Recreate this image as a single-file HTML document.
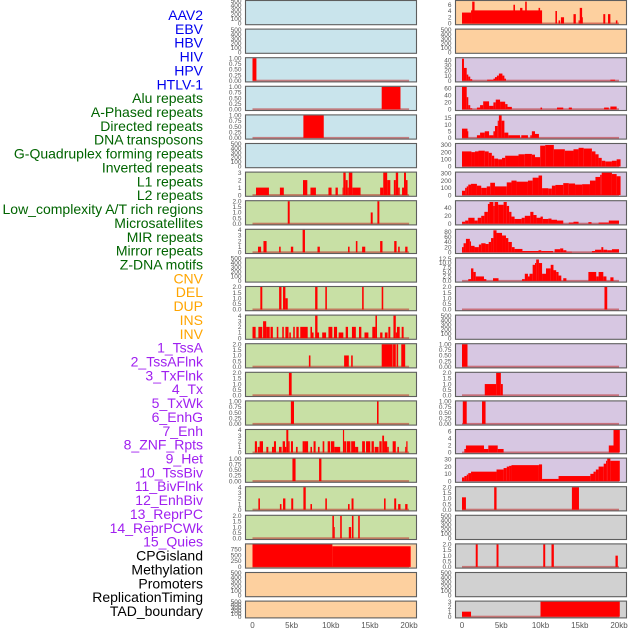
<!DOCTYPE html>
<html><head><meta charset="utf-8">
<style>
html,body{margin:0;padding:0;background:#fff;}
svg{display:block;}
.lab{font-family:"Liberation Sans",sans-serif;font-size:14px;}
.tk{font-family:"Liberation Sans",sans-serif;font-size:6.5px;fill:#555;}
.ax{font-family:"Liberation Sans",sans-serif;font-size:8px;fill:#555;}
</style></head>
<body>
<svg id="chart" width="630" height="630" viewBox="0 0 630 630" xmlns="http://www.w3.org/2000/svg">
<g id="labels"></g>
<g id="panels"></g>
<g id="axes"></g>
</svg>
<script>
const labelNames = ["AAV2","EBV","HBV","HIV","HPV","HTLV-1","Alu repeats","A-Phased repeats","Directed repeats","DNA transposons","G-Quadruplex forming repeats","Inverted repeats","L1 repeats","L2 repeats","Low_complexity A/T rich regions","Microsatellites","MIR repeats","Mirror repeats","Z-DNA motifs","CNV","DEL","DUP","INS","INV","1_TssA","2_TssAFlnk","3_TxFlnk","4_Tx","5_TxWk","6_EnhG","7_Enh","8_ZNF_Rpts","9_Het","10_TssBiv","11_BivFlnk","12_EnhBiv","13_ReprPC","14_ReprPCWk","15_Quies","CPGisland","Methylation","Promoters","ReplicationTiming","TAD_boundary"];
const labelGroups = ["v","v","v","v","v","v","r","r","r","r","r","r","r","r","r","r","r","r","r","s","s","s","s","s","c","c","c","c","c","c","c","c","c","c","c","c","c","c","c","o","o","o","o","o"];
const xTicks = [0,5,10,15,20];
const xTickLabels = ["0","5kb","10kb","15kb","20kb"];

const L1 = [], L2 = [], L6 = [], L10 = [], L21 = [], L22 = [];
const L3 = [[0,0.5,1]];
const L4 = [[16.5,18.9,1]];
const L5 = [[6.5,9.1,1]];
const L7 = [[0.45,2.1,1],[3.5,4.0,1],[6.45,7.0,2],[7.4,8.1,1],[9.7,10.1,1],[10.6,10.9,1],[11.5,11.6,1],[11.6,11.9,3],[11.9,12.15,2],[12.15,12.3,1],[12.3,12.75,3],[12.75,13.8,1],[16.3,16.7,1],[16.7,17.2,3],[17.2,17.6,2],[18.05,18.3,2],[18.3,18.6,3],[18.6,18.8,1],[19.1,19.35,1],[19.35,19.6,3],[19.6,19.8,2]];
const L8 = [[4.5,4.75,2],[15.1,15.35,1],[15.95,16.2,2]];
const L9 = [[0.7,1.1,1],[1.4,1.8,2],[3.4,3.6,1],[4.9,5.2,1],[6.4,6.7,4],[8.3,8.6,1],[12.2,12.4,1],[13.2,13.4,2],[14.0,14.4,1],[16.3,16.6,2],[18.1,18.4,2],[18.6,18.8,1],[19.5,19.8,1]];
const L11 = [[1.0,1.25,2],[3.4,3.7,2],[3.9,4.2,2],[4.2,4.5,1],[8.0,8.3,2],[9.3,9.5,2],[14.0,14.2,2],[16.5,16.7,2]];
const L12 = [[0,0.4,2],[0.75,1.25,2],[1.35,1.75,3],[1.75,2.2,2],[2.3,2.6,2],[3.1,3.3,2],[3.8,4.0,2],[4.2,4.6,2],[4.7,4.9,1],[5.2,5.4,2],[5.6,5.9,2],[6.1,7.05,2],[7.4,7.6,2],[7.6,7.8,1],[8.0,8.3,4],[8.3,8.5,1],[8.9,9.4,1],[9.7,10.2,2],[10.4,10.8,2],[11.0,11.6,1],[11.9,12.2,2],[12.7,13.2,2],[13.6,13.9,2],[14.3,14.8,1],[15.3,15.7,2],[15.7,15.9,4],[16.3,16.6,1],[16.9,17.25,1],[17.35,17.6,2],[18.0,18.3,4],[18.3,18.45,1],[18.45,18.8,2],[19.05,19.3,2]];
const L13 = [[7.2,7.4,1],[11.7,12.3,1],[12.6,12.8,1],[16.5,17.9,2],[17.95,18.3,2],[18.4,18.6,2],[19.0,19.5,2]];
const L14 = [[4.65,5.0,2]];
const L15 = [[4.9,5.3,1],[15.9,16.1,1]];
const L16 = [[0.3,0.57,2],[0.66,0.91,1],[0.91,1.34,2],[1.77,2.02,1],[2.49,2.74,1],[2.74,3.0,2],[3.38,3.72,1],[3.85,4.15,2],[4.15,4.32,1],[4.32,4.57,4],[4.57,4.74,2],[4.91,5.17,2],[5.55,5.77,1],[6.4,6.7,2],[6.7,7.1,2],[7.4,7.6,1],[7.8,8.06,2],[8.36,8.57,1],[8.96,9.17,2],[9.6,9.9,2],[10.0,10.45,2],[10.45,11.2,1],[11.55,11.7,4],[11.7,11.98,2],[12.06,12.5,2],[12.6,13.1,2],[13.1,13.5,1],[14.0,14.36,2],[14.5,15.04,2],[15.2,15.5,2],[15.6,16.1,1],[16.2,16.5,2],[16.57,16.8,3],[16.8,17.2,2],[17.2,17.4,1],[17.9,18.3,2],[18.5,18.7,1],[19.5,19.64,1],[19.64,19.8,2]];
const L17 = [[5.1,5.5,1],[8.5,8.8,1]];
const L18 = [[0.75,0.95,2],[3.5,3.7,1],[3.9,4.2,2],[4.95,5.2,2],[6.5,6.8,4],[7.4,7.6,1],[9.3,9.5,2],[12.2,12.4,1],[12.65,12.9,2],[16.8,17.0,2],[18.1,18.35,2],[18.6,18.9,1],[19.5,19.8,1]];
const L19 = [[10.2,10.4,2],[10.4,10.5,1],[11.2,11.4,2],[12.3,12.6,1],[12.7,12.9,2],[13.5,13.7,2]];
const L20 = [[0,10.2,980],[10.2,20.2,880]];

const R2 = [], R12 = [], R19 = [], R21 = [];
const R1 = [[0,1.15,3.5],[1.15,10.2,4.2],[1.3,1.6,7],[6.55,6.75,6],[7.4,7.7,5],[8.05,8.25,7],[9.75,9.95,5],[11.9,12.1,4],[12.3,12.5,1],[12.6,13.0,2],[14.2,14.5,3],[14.85,15.0,1],[15.0,15.3,5],[15.3,15.4,2],[18.0,18.25,3],[18.6,18.9,3],[19.6,19.8,1]];
const R3 = [[0,0.25,43],[0.25,0.6,25],[0.6,0.8,12],[0.8,1.05,8],[1.05,1.3,3],[3.2,4.0,2],[4.0,4.2,4],[4.2,4.45,7],[4.45,4.7,10],[4.7,5.15,14],[5.15,5.4,10],[5.4,5.6,4],[18.9,19.5,2]];
const R4 = [[0,0.6,65],[0.6,0.8,35],[0.8,1.05,12],[1.05,1.3,3],[1.9,2.3,5],[2.3,2.7,12],[2.7,3.45,23],[3.45,4.0,10],[4.0,4.3,20],[4.3,4.85,28],[4.85,5.5,22],[5.5,5.8,15],[5.8,6.35,7],[10.0,10.2,5],[12.1,12.9,5],[13.6,14.0,5],[18.1,18.7,5],[18.9,19.7,8]];
const R5 = [[0,0.7,7],[0.7,0.8,5],[1.9,2.3,2],[2.3,2.9,4],[2.9,3.45,5],[3.45,4.0,2],[4.0,4.2,5],[4.2,4.55,9],[4.55,4.7,13],[4.7,5.05,17],[5.05,5.4,13],[5.4,5.9,4],[5.9,7.4,2],[7.55,8.4,2],[8.7,8.9,2],[8.9,9.3,5],[9.3,9.8,3]];
const R6 = [[0,1.2,210],[1.2,1.65,200],[1.65,2.1,210],[2.1,2.9,220],[2.9,3.4,210],[3.4,3.8,190],[3.8,4.1,150],[4.1,4.6,110],[4.6,5.1,100],[5.1,5.5,120],[5.5,7.2,150],[7.2,8.0,170],[8.0,8.9,175],[8.9,9.3,165],[9.3,9.96,130],[9.96,10.6,290],[10.6,11.7,300],[11.7,13.1,240],[13.1,14.2,220],[14.2,14.85,240],[14.85,15.5,260],[15.5,16.55,250],[16.55,17.0,210],[17.0,17.4,170],[17.4,17.8,120],[17.8,18.25,80],[18.25,19.1,70],[19.1,19.7,80],[19.7,20.2,100]];
const R7 = [[0,0.4,60],[0.4,0.6,100],[0.6,0.8,120],[0.8,1.15,145],[1.15,1.9,155],[1.9,2.45,130],[2.45,3.15,100],[3.15,3.6,120],[3.6,4.2,170],[4.2,5.7,120],[5.7,6.3,175],[6.3,6.95,200],[6.95,8.4,185],[8.4,9.0,200],[9.0,9.75,240],[9.75,10.2,270],[10.2,11.0,95],[11.0,11.45,90],[11.45,11.9,130],[11.9,12.9,140],[12.9,13.6,165],[13.6,14.4,160],[14.4,15.3,145],[15.3,16.3,150],[16.3,17.0,200],[17.0,17.6,250],[17.6,17.8,280],[17.8,19.1,310],[19.1,19.7,290],[19.7,20.2,260]];
const R8 = [[0,0.4,5],[0.4,0.8,8],[0.8,1.6,15],[1.6,2.0,8],[2.0,2.45,15],[2.45,2.85,20],[2.85,3.3,30],[3.3,3.5,50],[3.5,4.0,55],[4.0,4.15,45],[4.15,4.6,55],[4.6,5.3,48],[5.3,5.7,55],[5.7,6.0,45],[6.0,6.3,30],[6.3,6.7,18],[6.7,7.6,12],[7.6,8.0,15],[8.0,8.7,20],[8.7,9.1,30],[9.1,9.5,22],[9.5,10.0,15],[10.0,10.3,18],[10.3,11.0,12],[11.0,11.4,13],[11.4,12.1,10],[12.1,12.9,8],[13.6,14.2,3],[14.2,14.85,5],[16.1,16.5,4],[17.4,18.7,3],[18.7,20.0,8]];
const R9 = [[0,0.2,20],[0.2,0.5,35],[0.5,1.0,52],[1.0,1.15,42],[1.15,1.6,25],[1.6,2.15,20],[2.15,2.45,30],[2.45,3.0,35],[3.0,3.4,32],[3.4,3.7,40],[3.7,4.0,55],[4.0,4.4,85],[4.4,5.1,75],[5.1,5.6,65],[5.6,5.9,55],[5.9,6.35,40],[6.35,6.7,20],[6.7,7.7,13],[7.7,9.75,5],[9.75,10.1,8],[10.1,11.6,5],[11.8,12.5,12],[12.5,12.9,15],[12.9,13.3,8],[13.3,14.0,2],[16.55,16.95,5],[16.95,17.75,10],[17.75,18.0,20],[18.0,18.5,10],[18.5,19.1,8],[19.1,20.0,12]];
const R10 = [[0.8,1.15,1],[1.15,1.45,7],[1.45,1.75,5],[1.75,2.8,2.5],[2.8,3.1,1],[3.95,4.65,1.5],[7.65,8.0,1],[8.0,8.4,4],[8.4,8.6,2.5],[8.6,9.0,4],[9.0,9.3,9],[9.3,9.45,10],[9.45,9.8,12],[9.8,10.2,10],[10.2,10.7,4],[10.7,11.3,7],[11.3,11.65,9],[11.65,12.0,6],[12.0,12.3,5],[12.3,12.65,3],[12.9,13.3,1.5],[16.1,17.1,5],[17.1,17.4,2.5],[17.4,18.0,5],[18.0,18.4,2.5],[18.9,19.3,2]];
const R11 = [[18.15,18.5,2]];
const R13 = [[0,0.7,1]];
const R14 = [[2.9,4.35,1],[4.35,4.95,2],[4.95,5.2,1]];
const R15 = [[0.1,0.6,1],[2.55,3.0,1]];
const R16 = [[0.3,0.5,1],[0.5,2.8,2],[2.8,3.35,1],[3.35,4.55,2],[4.55,5.3,1],[18.7,19.3,2],[19.3,20.1,6.4]];
const R17 = [[0,0.3,5],[0.3,0.6,7],[0.6,0.8,9],[0.8,1.15,11],[1.15,4.4,13],[4.4,5.3,16],[5.3,5.7,18],[5.7,6.0,20],[6.0,6.3,21],[6.3,9.8,22],[9.8,10.2,23],[10.2,12.3,3],[12.3,16.35,7],[16.35,16.75,10],[16.75,17.05,13],[17.05,17.4,16],[17.4,18.05,20],[18.05,18.35,24],[18.35,18.5,28],[18.5,18.9,31],[18.9,20.1,28]];
const R18 = [[0,0.5,1.1],[4.1,4.4,2],[14.0,14.9,2]];
const R20 = [[1.75,2.0,2],[4.4,4.65,2],[10.35,10.6,2],[11.4,11.7,2],[19.55,19.85,1]];
const R22 = [[0,1.15,1],[10.0,20.1,3]];

const ticksEmpty = [0,100,200,300,400,500];
const ticksFrac = [0,0.25,0.5,0.75,1];
const ticksTwo = [0,0.5,1,1.5,2];
const ticksThree = [0,1,2,3];
const ticksFour = [0,1,2,3,4];

const leftData = [L1,L2,L3,L4,L5,L6,L7,L8,L9,L10,L11,L12,L13,L14,L15,L16,L17,L18,L19,L20,L21,L22];
const leftMax = [500,500,1,1,1,500,3,2,4,500,2,4,2,2,1,4,1,4,2,960,500,500];
const leftTicks = [ticksEmpty,ticksEmpty,ticksFrac,ticksFrac,ticksFrac,ticksEmpty,ticksThree,ticksTwo,ticksFour,ticksEmpty,ticksTwo,ticksFour,ticksTwo,ticksTwo,ticksFrac,ticksFour,ticksFrac,ticksFour,ticksTwo,[0,250,500,750],ticksEmpty,ticksEmpty];
const leftColor = ["b","b","b","b","b","b","g","g","g","g","g","g","g","g","g","g","g","g","g","p","p","p"];

const rightData = [R1,R2,R3,R4,R5,R6,R7,R8,R9,R10,R11,R12,R13,R14,R15,R16,R17,R18,R19,R20,R21,R22];
const rightMax = [7.2,500,44,65,17,313,310,57,87,12.6,2,500,1,2,1,6.4,31,2,500,2,500,3];
const rightTicks = [[0,2,4,6],ticksEmpty,[0,10,20,30,40],[0,20,40,60],[0,5,10,15],[0,100,200,300],[0,100,200,300],[0,20,40],[0,20,40,60,80],[0,2.5,5,7.5,10,12.5],ticksTwo,ticksEmpty,ticksFrac,ticksTwo,ticksFrac,[0,2,4,6],[0,10,20,30],ticksTwo,ticksEmpty,ticksTwo,ticksEmpty,ticksThree];
const rightColor = ["p","p","u","u","u","u","u","u","u","u","u","u","u","u","u","u","u","k","k","k","k","k"];

const fills = {b:"#c9e4ec",g:"#c8e0a5",p:"#fdd09f",u:"#d7c7e2",k:"#d1d1d1"};
const groupColors = {v:"#0000ee",r:"#006400",s:"#ffa500",c:"#a020f0",o:"#000000"};
const NS = "http://www.w3.org/2000/svg";

function mk(tag, attrs, parent){
  const e = document.createElementNS(NS, tag);
  for (const k in attrs) e.setAttribute(k, attrs[k]);
  parent.appendChild(e);
  return e;
}

const labG = document.getElementById('labels');
labelNames.forEach((n,i)=>{
  const t = mk('text',{x:203,y:(15+i*13.86+5).toFixed(1),'text-anchor':'end',class:'lab',fill:groupColors[labelGroups[i]]},labG);
  
  
  t.textContent = n;
});

const panG = document.getElementById('panels');
let clipId = 0;
function fmt(v, ticks){
  const frac = ticks.some(t=>Math.abs(t-Math.round(t*2)/2)>1e-9);
  const half = ticks.some(t=>t%1!==0);
  if (frac) return v.toFixed(2);
  if (half) return v.toFixed(1);
  return String(v);
}
function drawPanel(col, i, data, ymax, ticks, color){
  const px = col===0 ? 245.5 : 455.5;
  const pw = 171;
  const x0 = col===0 ? 252.5 : 462;
  const kbw = col===0 ? 7.83 : 7.85;
  const top = 0.5 + i*28.6;
  const h = i===21 ? 16.8 : 24.2;
  const xs = kb => x0 + kb*kbw;
  const ys = v => top + h - 1.2 - (v/ymax)*(h-1.7);
  const g = mk('g',{},panG);
  
  
  const id = 'c'+(clipId++);
  const cp = mk('clipPath',{id:id},g);
  mk('rect',{x:px,y:top,width:pw,height:h},cp);
  const bg = mk('rect',{x:px,y:top,width:pw,height:h,fill:fills[color]},g);
  
  
  const dg = mk('g',{'clip-path':'url(#'+id+')'},g);
  if (data.length){
    const bl = mk('rect',{x:xs(0),y:ys(0)-1,width:xs(20)-xs(0),height:2,fill:"rgba(190,40,40,0.55)"},dg);
    
    
  }
  data.forEach(s=>{
    const y1 = ys(s[2]), y0 = ys(0);
    const r = mk('rect',{x:xs(s[0]).toFixed(2),y:y1.toFixed(2),width:Math.max(0.8,xs(s[1])-xs(s[0])).toFixed(2),height:Math.max(0,y0-y1).toFixed(2),fill:"#ff0000"},dg);
    
    
  });
  const br = mk('rect',{x:px,y:top,width:pw,height:h,fill:"none",stroke:"#5e5e5e","stroke-width":1.1},g);
  
  
  ticks.forEach(tv=>{
    const t = mk('text',{x:px-4,y:(ys(tv)+2.2).toFixed(1),'text-anchor':'end',class:'tk'},g);
    
    
    t.textContent = fmt(tv, ticks);
  });
}
for (let i=0;i<22;i++){
  drawPanel(0,i,leftData[i],leftMax[i],leftTicks[i],leftColor[i]);
  drawPanel(1,i,rightData[i],rightMax[i],rightTicks[i],rightColor[i]);
}

const axG = document.getElementById('axes');
[[252.5,7.83],[462,7.85]].forEach(c=>{
  xTicks.forEach((kb,j)=>{
    const x = c[0]+kb*c[1];
    const t = mk('text',{x:x.toFixed(1),y:628,'text-anchor':'middle',class:'ax'},axG);
    
    
    t.textContent = xTickLabels[j];
  });
});
</script>
</body></html>
